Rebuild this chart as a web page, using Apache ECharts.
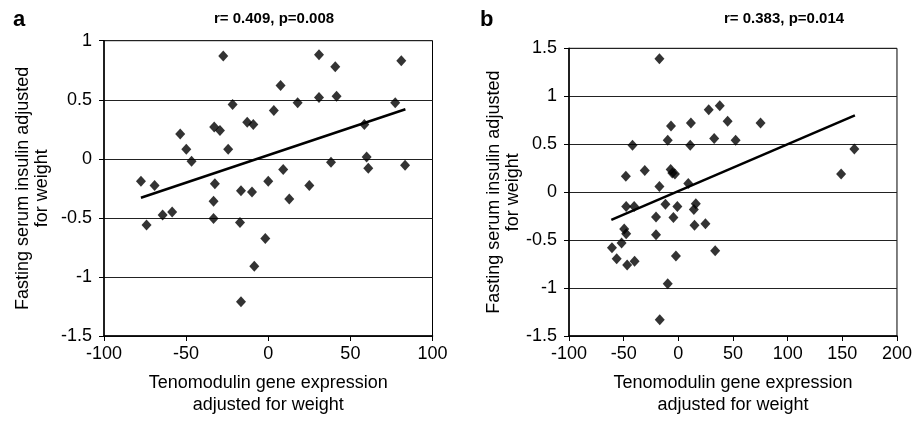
<!DOCTYPE html>
<html lang="en">
<head>
  <meta charset="UTF-8">
  <script src="https://cdn.jsdelivr.net/npm/echarts@6/dist/echarts.min.js"></script>
</head>
<body style="margin:0;background:#fff;">
<div id="main" style="width:915px;height:421px;"></div>

<script>
  // panel a: tenomodulin (x) vs insulin (y)
  var ptsA = [
    [-27.4,0.87],[7.5,0.62],[-21.7,0.46],[3.4,0.41],[-32.9,0.27],[-29.4,0.24],
    [-12.8,0.31],[-9.1,0.29],[-53.6,0.21],[-49.9,0.08],[-24.4,0.08],[-46.7,-0.02],
    [-77.5,-0.19],[-69.2,-0.225],[-32.5,-0.21],[0,-0.19],[-16.6,-0.27],[-9.9,-0.28],
    [-33.3,-0.36],[30.9,0.88],[81,0.83],[40.8,0.78],[17.9,0.475],[30.9,0.52],
    [41.6,0.53],[77.3,0.475],[58.5,0.29],[9.1,-0.09],[38.2,-0.03],[59.9,0.015],
    [60.9,-0.08],[83.3,-0.055],[25,-0.225],[12.8,-0.34],[-74.1,-0.56],[-64.3,-0.475],
    [-58.5,-0.45],[-33.3,-0.505],[-17.2,-0.54],[-1.8,-0.675],[-8.5,-0.91],[-16.6,-1.21]
  ];
  var trendA = [[-77.5,-0.33],[83.5,0.42]];

  // panel b
  var ptsB = [
    [-17.3,1.39],[-41.9,0.49],[-6.7,0.69],[11.5,0.72],[27.8,0.86],[37.9,0.9],
    [45.1,0.74],[-9.7,0.54],[10.9,0.49],[32.8,0.56],[-48,0.165],[-30.7,0.225],
    [-7,0.235],[-5.5,0.2],[-3.1,0.19],[-17.3,0.06],[9.1,0.09],[75.2,0.72],
    [52.4,0.54],[161,0.45],[148.9,0.19],[-47.7,-0.15],[-40.4,-0.15],[-11.8,-0.125],
    [-0.9,-0.15],[16,-0.12],[14.2,-0.18],[-20.4,-0.26],[-4.5,-0.265],[14.8,-0.345],
    [24.8,-0.33],[-49.5,-0.385],[-47.7,-0.435],[-20.4,-0.445],[-51.9,-0.53],[-60.7,-0.58],
    [-56.4,-0.695],[-46.8,-0.76],[-40,-0.72],[-2.2,-0.665],[33.7,-0.61],[-9.7,-0.955],
    [-17,-1.33]
  ];
  var trendB = [[-61.3,-0.29],[161.5,0.8]];

  var titles = ['r= 0.409, p=0.008','r= 0.383, p=0.014'];
  var xName = 'Tenomodulin gene expression\nadjusted for weight';
  var yName = 'Fasting serum insulin adjusted\nfor weight';

  var font = 'Liberation Sans, Arial, sans-serif';
  var narrow = 'Liberation Sans Narrow, Arial Narrow, sans-serif';
  var main = echarts.init(document.querySelector('#main'));

  function xAx(idx,min,max){
    return {
      type:'value',gridIndex:idx,min:min,max:max,interval:50,
      name:xName,nameLocation:'middle',nameGap:36,
      nameTextStyle:{color:'#000',fontSize:18,fontFamily:font,lineHeight:22},
      axisLine:{show:true,onZero:false,lineStyle:{color:'#000',width:1.5}},
      axisTick:{show:true,length:5,lineStyle:{color:'#000'}},
      axisLabel:{color:'#000',fontSize:18,fontFamily:font,margin:9},
      splitLine:{show:false}
    };
  }
  function yAx(idx,min,max,gap){
    return {
      type:'value',gridIndex:idx,min:min,max:max,interval:0.5,
      name:yName,nameLocation:'middle',nameGap:gap,
      nameTextStyle:{color:'#000',fontSize:18,fontFamily:font,lineHeight:19},
      axisLine:{show:true,onZero:false,lineStyle:{color:'#000',width:1.5}},
      axisTick:{show:true,length:5,lineStyle:{color:'#000'}},
      axisLabel:{color:'#000',fontSize:18,fontFamily:font,margin:12},
      splitLine:{show:true,lineStyle:{color:'#222',width:1}}
    };
  }

  main.setOption({
    animation:false,
    title:[
      {text:'a',left:8,top:4,textStyle:{fontSize:22,fontWeight:'bold',color:'#000',fontFamily:font}},
      {text:'b',left:475,top:4,textStyle:{fontSize:22,fontWeight:'bold',color:'#000',fontFamily:font}},
      {text:titles[0],left:209,top:6,textStyle:{fontSize:15,fontWeight:'bold',color:'#000',fontFamily:narrow}},
      {text:titles[1],left:719,top:6,textStyle:{fontSize:15,fontWeight:'bold',color:'#000',fontFamily:narrow}}
    ],
    grid:[
      {left:104,top:40.7,width:328.5,height:303.6,show:true,borderColor:'#000',borderWidth:1},
      {left:569,top:48.3,width:329.3,height:295.4,show:true,borderColor:'#000',borderWidth:1}
    ],
    xAxis:[xAx(0,-100,100),xAx(1,-100,200)],
    yAxis:[yAx(0,-1.5,1,52),yAx(1,-1.5,1.5,40)],
    series:[{
      type:'scatter',xAxisIndex:0,yAxisIndex:0,
      symbol:'diamond',symbolSize:[10,11],
      itemStyle:{color:'#000'},
      data:ptsA
    },{
      type:'line',xAxisIndex:0,yAxisIndex:0,
      symbol:'none',lineStyle:{color:'#000',width:2.5},
      data:trendA
    },{
      type:'scatter',xAxisIndex:1,yAxisIndex:1,
      symbol:'diamond',symbolSize:[10,11],
      itemStyle:{color:'#000'},
      data:ptsB
    },{
      type:'line',xAxisIndex:1,yAxisIndex:1,
      symbol:'none',lineStyle:{color:'#000',width:2.5},
      data:trendB
    }]
  });
</script>
</body>
</html>
